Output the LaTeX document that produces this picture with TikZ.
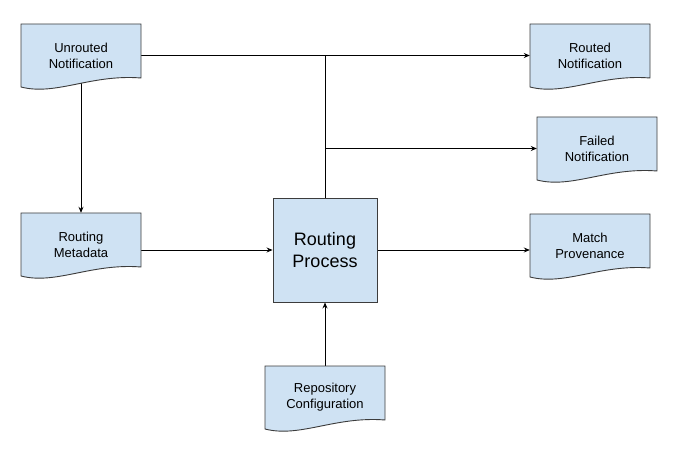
\documentclass[tikz,border=0pt]{standalone}
\usepackage{fontspec}
\setmainfont{Liberation Sans}
\usetikzlibrary{arrows.meta}
\usetikzlibrary{backgrounds}
\definecolor{docfill}{HTML}{CFE2F3}
\definecolor{docline}{HTML}{3C3C3C}
\tikzstyle{doc}=[draw=docline, fill=docfill, line width=0.9pt]
\tikzstyle{doctext}=[minimum width=120pt, minimum height=63pt, inner sep=0pt, align=center, font=\fontsize{13}{16}\selectfont]
\tikzset{flow/.style={line width=0.9pt, -{Stealth[length=6pt,width=5pt]}}}

% document shape: name, top left corner, text
\newcommand{\docbox}[3]{%
  \begin{scope}[shift={(#2)}]
    \path[doc] (0,0) -- (120,0) -- (120,54) .. controls (70,50) and (35,72) .. (0,63) -- cycle;
    \node[doctext] (#1) at (60,31.5) {#3};
  \end{scope}}

\begin{document}
\begin{tikzpicture}[x=1pt, y=-1pt]
		\useasboundingbox (0,0) rectangle (677,454);
		\docbox{unrouted}{21,24}{Unrouted\\Notification}
		\docbox{metadata}{21,213}{Routing\\Metadata}
		\docbox{routed}{530,24}{Routed\\Notification}
		\docbox{failed}{537,117}{Failed\\Notification}
		\docbox{provenance}{530,214}{Match\\Provenance}
		\docbox{config}{265,366}{Repository\\Configuration}
		\node[doc, minimum size=104pt, inner sep=0pt, align=center, font=\fontsize{18}{22}\selectfont] (process) at (325,250) {Routing\\Process};
		\begin{scope}[on background layer]
		\draw[flow] (unrouted.center) -- (metadata.north);
		\draw[flow] (unrouted.center) -- (routed.west);
		\draw[line width=0.9pt] (process.north) -- (process.north |- unrouted.center);
		\draw[flow] (process.north |- failed.west) -- (failed.west);
		\draw[flow] (metadata.center |- process.west) -- (process.west);
		\draw[flow] (process.east) -- (process.east -| provenance.west);
		\draw[flow] (config.center) -- (process.south);
		\end{scope}
		\end{tikzpicture}
\end{document}
